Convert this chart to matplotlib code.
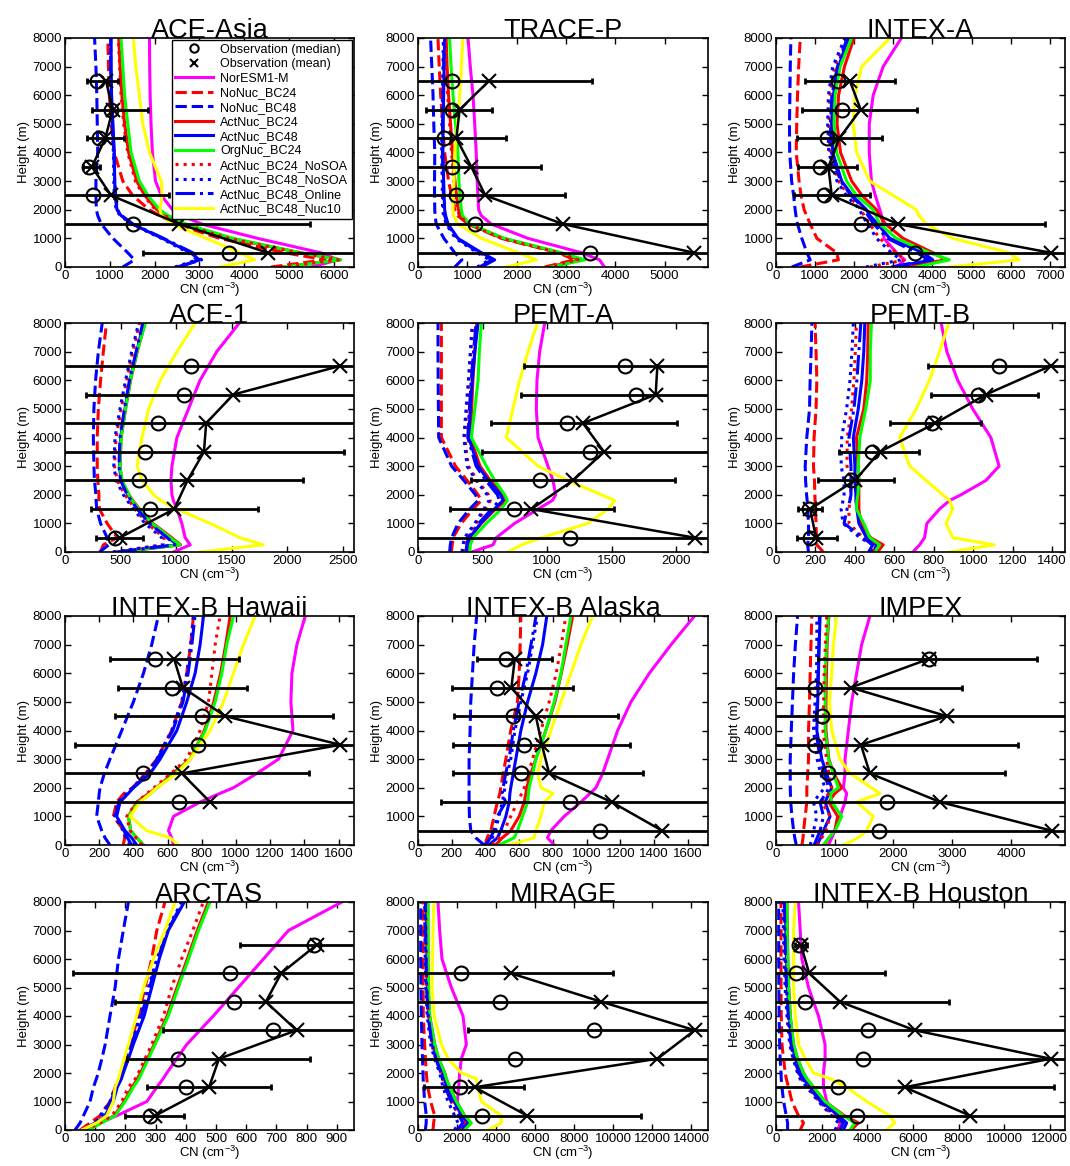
import numpy as np
import matplotlib
matplotlib.use('Agg')
from matplotlib import pyplot as plt

plt.rcParams['font.family'] = ['Liberation Sans', 'DejaVu Sans']
plt.rcParams['mathtext.fontset'] = 'custom'
plt.rcParams['mathtext.rm'] = 'Liberation Sans'
plt.rcParams['mathtext.it'] = 'Liberation Sans:italic'
plt.rcParams['mathtext.bf'] = 'Liberation Sans:bold'

# model heights (m)
Z = [0, 250, 500, 1000, 1500, 1800, 2000, 2500, 3000, 4000, 5000, 6000, 7000, 8000]
OBS_Z = [6500, 5500, 4500, 3500, 2500, 1500, 500]

MODELS = ['NorESM1-M', 'NoNuc_BC24', 'NoNuc_BC48', 'ActNuc_BC24', 'ActNuc_BC48',
          'OrgNuc_BC24', 'ActNuc_BC24_NoSOA', 'ActNuc_BC48_NoSOA',
          'ActNuc_BC48_Online', 'ActNuc_BC48_Nuc10']
COLORS = ['magenta', 'red', 'blue', 'red', 'blue', 'lime', 'red', 'blue', 'blue', 'yellow']
STYLES = ['-', '--', '--', '-', '-', '-', ':', ':', '-.', '-']

# CN profiles, one row per model (order of MODELS), values at Z
ace_asia = [
    [5500, 6100, 5700, 4300, 3050, 2600, 2400, 2150, 2020, 1950, 1920, 1900, 1890, 1885],
    [4600, 5800, 4900, 3450, 2480, 2100, 1880, 1510, 1290, 1100, 1030, 990, 970, 955],
    [1290, 1550, 1400, 1070, 810, 730, 700, 690, 690, 730, 720, 710, 690, 660],
    [4900, 6150, 5250, 3700, 2650, 2250, 2050, 1780, 1600, 1420, 1330, 1270, 1230, 1200],
    [2550, 3000, 2800, 2180, 1500, 1250, 1160, 1120, 1110, 1100, 1070, 1040, 1030, 1030],
    [4900, 6150, 5250, 3750, 2700, 2300, 2110, 1850, 1660, 1475, 1400, 1330, 1290, 1250],
    [4800, 6100, 5200, 3650, 2620, 2220, 2020, 1750, 1570, 1400, 1310, 1250, 1220, 1190],
    [2450, 2950, 2750, 2150, 1480, 1230, 1140, 1100, 1090, 1080, 1050, 1020, 1010, 1010],
    [2500, 3050, 2850, 2200, 1520, 1260, 1170, 1130, 1110, 1090, 1060, 1030, 1020, 1020],
    [3450, 4230, 3900, 3150, 2400, 2150, 2120, 2165, 2150, 1885, 1735, 1660, 1580, 1525],
]
trace_p = [
    [3780, 3680, 3310, 2230, 1485, 1280, 1230, 1215, 1200, 1180, 1150, 1115, 1060, 1015],
    [2570, 3175, 2840, 1690, 1015, 800, 745, 680, 620, 540, 500, 460, 430, 405],
    [745, 890, 745, 525, 370, 345, 340, 335, 335, 340, 320, 305, 280, 255],
    [2650, 3300, 2880, 1720, 1030, 860, 820, 780, 750, 700, 660, 620, 590, 570],
    [1285, 1555, 1285, 810, 610, 560, 540, 530, 520, 505, 510, 520, 530, 540],
    [2700, 3380, 2905, 1755, 1050, 900, 880, 850, 830, 810, 760, 710, 670, 640],
    [2600, 3250, 2850, 1700, 1020, 840, 800, 760, 730, 680, 640, 600, 570, 550],
    [1200, 1450, 1200, 760, 570, 520, 500, 495, 490, 480, 485, 495, 505, 515],
    [1250, 1500, 1250, 790, 590, 540, 520, 515, 510, 495, 500, 510, 520, 530],
    [1790, 2400, 2030, 1285, 810, 720, 710, 715, 730, 745, 800, 845, 880, 910],
]
intex_a = [
    [3080, 3290, 3080, 2760, 2740, 2700, 2655, 2540, 2440, 2385, 2385, 2485, 2740, 3205],
    [620, 1595, 1550, 1045, 875, 780, 720, 640, 590, 517, 530, 550, 580, 620],
    [405, 875, 790, 660, 550, 510, 490, 450, 400, 350, 345, 355, 365, 380],
    [3200, 4350, 4010, 3250, 2800, 2650, 2570, 2200, 1935, 1650, 1560, 1600, 1750, 1995],
    [3000, 4010, 3755, 2910, 2600, 2400, 2315, 1950, 1680, 1450, 1420, 1465, 1600, 1850],
    [3590, 4435, 3925, 3080, 2655, 2550, 2485, 2060, 1805, 1550, 1485, 1510, 1640, 1935],
    [2400, 3300, 3080, 2650, 2400, 2250, 2180, 1850, 1600, 1380, 1350, 1380, 1500, 1800],
    [2300, 3200, 2950, 2570, 2350, 2200, 2145, 1800, 1560, 1350, 1320, 1340, 1450, 1765],
    [2950, 3900, 3600, 2850, 2500, 2350, 2280, 1920, 1650, 1420, 1390, 1430, 1570, 1820],
    [4435, 6215, 5960, 4520, 3840, 3650, 3590, 2995, 2400, 2060, 1975, 2020, 2190, 2910],
]
ace_1 = [
    [977, 1126, 1081, 1051, 1007, 975, 962, 953, 962, 1007, 1111, 1215, 1365, 1568],
    [320, 345, 469, 379, 310, 305, 305, 295, 290, 290, 300, 320, 345, 373],
    [310, 394, 379, 320, 285, 280, 278, 265, 260, 255, 260, 275, 300, 335],
    [500, 1040, 960, 790, 670, 610, 575, 510, 495, 505, 545, 590, 650, 720],
    [480, 1010, 930, 770, 655, 600, 565, 505, 490, 500, 540, 585, 645, 708],
    [480, 1036, 947, 782, 663, 605, 573, 515, 493, 505, 544, 588, 648, 723],
    [440, 900, 890, 740, 630, 575, 540, 470, 445, 460, 505, 555, 610, 670],
    [430, 880, 870, 720, 615, 560, 525, 460, 439, 450, 495, 545, 600, 663],
    [470, 990, 920, 760, 650, 595, 560, 500, 485, 495, 535, 580, 640, 700],
    [1216, 1783, 1574, 1305, 1007, 860, 797, 693, 648, 693, 753, 857, 1007, 1171],
]
pemt_a = [
    [415, 581, 606, 748, 929, 1040, 1066, 1045, 1006, 929, 916, 921, 942, 981],
    [258, 265, 271, 335, 426, 490, 465, 380, 290, 181, 181, 181, 181, 181],
    [245, 250, 260, 310, 400, 465, 445, 355, 260, 160, 158, 156, 155, 155],
    [380, 385, 400, 490, 600, 680, 660, 560, 480, 405, 415, 425, 440, 455],
    [387, 390, 400, 485, 590, 658, 640, 545, 465, 392, 405, 420, 440, 465],
    [400, 405, 426, 529, 645, 692, 671, 594, 529, 413, 440, 465, 475, 490],
    [348, 355, 370, 450, 520, 560, 545, 460, 390, 361, 380, 395, 410, 426],
    [340, 348, 360, 440, 510, 550, 535, 450, 380, 355, 372, 390, 405, 420],
    [370, 378, 390, 470, 570, 630, 615, 525, 450, 385, 398, 412, 430, 450],
    [697, 800, 955, 1316, 1471, 1523, 1419, 1161, 929, 684, 735, 787, 852, 924],
]
pemt_b = [
    [694, 728, 753, 765, 829, 880, 938, 1064, 1131, 1089, 997, 921, 866, 837],
    [240, 207, 205, 203, 200, 198, 197, 195, 190, 193, 203, 207, 203, 198],
    [165, 160, 165, 165, 160, 158, 155, 150, 148, 156, 170, 173, 178, 182],
    [515, 543, 480, 430, 420, 420, 420, 420, 415, 408, 445, 460, 465, 467],
    [495, 509, 459, 420, 410, 405, 405, 400, 400, 392, 417, 435, 445, 450],
    [500, 526, 476, 445, 408, 410, 415, 420, 417, 425, 455, 478, 478, 484],
    [490, 500, 442, 370, 370, 375, 378, 380, 360, 361, 383, 395, 402, 408],
    [480, 492, 425, 340, 330, 340, 345, 345, 330, 333, 358, 375, 385, 392],
    [470, 490, 440, 345, 360, 375, 380, 380, 380, 370, 395, 410, 420, 430],
    [880, 1106, 896, 862, 896, 880, 845, 761, 677, 627, 711, 778, 829, 876],
]
intex_b_hawaii = [
    [634, 624, 605, 634, 790, 905, 985, 1122, 1249, 1333, 1321, 1327, 1356, 1405],
    [340, 350, 345, 283, 302, 345, 395, 470, 537, 624, 683, 712, 735, 751],
    [263, 234, 215, 185, 195, 200, 205, 230, 263, 332, 400, 459, 507, 546],
    [459, 420, 384, 371, 420, 490, 535, 630, 732, 815, 870, 910, 940, 966],
    [420, 390, 351, 302, 322, 370, 400, 498, 556, 654, 712, 761, 790, 810],
    [459, 420, 384, 371, 430, 500, 537, 640, 732, 820, 878, 917, 946, 985],
    [450, 415, 380, 361, 420, 480, 520, 620, 712, 790, 839, 859, 878, 907],
    [380, 355, 340, 290, 310, 360, 395, 480, 537, 624, 683, 712, 735, 751],
    [390, 365, 345, 295, 315, 365, 398, 485, 540, 630, 690, 720, 742, 760],
    [663, 615, 478, 380, 439, 500, 537, 654, 732, 849, 927, 985, 1044, 1112],
]
intex_b_alaska = [
    [808, 768, 788, 867, 966, 1020, 1055, 1095, 1125, 1184, 1263, 1372, 1501, 1640],
    [400, 410, 432, 451, 471, 485, 491, 505, 521, 550, 590, 600, 606, 610],
    [392, 343, 313, 305, 303, 303, 303, 303, 303, 309, 313, 323, 333, 348],
    [460, 500, 550, 600, 630, 640, 645, 670, 699, 758, 812, 850, 885, 917],
    [420, 471, 491, 521, 541, 545, 550, 565, 580, 610, 650, 699, 739, 764],
    [480, 570, 590, 620, 650, 655, 659, 680, 699, 758, 808, 848, 877, 907],
    [440, 480, 511, 550, 590, 615, 630, 655, 679, 729, 778, 820, 850, 877],
    [410, 440, 460, 480, 500, 510, 515, 530, 550, 575, 610, 650, 680, 709],
    [400, 430, 450, 470, 520, 500, 505, 520, 540, 565, 600, 640, 670, 700],
    [540, 689, 699, 729, 749, 800, 730, 709, 729, 788, 848, 907, 966, 1036],
]
impex = [
    [893, 949, 1006, 1090, 1175, 1203, 1147, 1175, 1175, 1232, 1288, 1373, 1458, 1599],
    [441, 460, 469, 497, 525, 525, 525, 540, 554, 554, 570, 582, 595, 610],
    [345, 320, 300, 271, 250, 245, 243, 242, 242, 260, 280, 300, 330, 367],
    [820, 900, 1000, 1050, 900, 1000, 1119, 980, 900, 850, 850, 860, 870, 900],
    [695, 760, 808, 921, 836, 900, 949, 860, 780, 695, 710, 723, 735, 751],
    [808, 900, 1006, 1119, 950, 921, 1062, 977, 893, 836, 836, 836, 860, 893],
    [700, 780, 850, 921, 780, 900, 950, 900, 860, 800, 810, 820, 840, 864],
    [582, 620, 640, 695, 638, 750, 830, 760, 700, 638, 665, 690, 695, 695],
    [650, 700, 750, 808, 750, 850, 900, 820, 750, 680, 700, 715, 730, 740],
    [1147, 1400, 1542, 1655, 1373, 1768, 1627, 1260, 1090, 949, 910, 949, 977, 1034],
]
arctas = [
    [72, 116, 171, 271, 304, 325, 337, 370, 403, 491, 574, 657, 740, 917],
    [50, 83, 116, 149, 166, 180, 188, 200, 215, 243, 265, 287, 304, 331],
    [33, 50, 61, 83, 94, 104, 110, 122, 133, 149, 166, 177, 193, 210],
    [75, 118, 163, 196, 222, 240, 250, 273, 295, 338, 371, 405, 438, 475],
    [61, 105, 132, 160, 173, 187, 193, 210, 226, 262, 287, 312, 342, 395],
    [77, 121, 166, 199, 226, 245, 254, 276, 298, 342, 375, 409, 442, 480],
    [66, 116, 155, 188, 210, 233, 243, 265, 287, 326, 353, 386, 423, 458],
    [55, 100, 116, 149, 166, 180, 188, 203, 218, 248, 276, 304, 337, 386],
    [57, 100, 120, 152, 168, 182, 190, 205, 220, 252, 280, 307, 340, 390],
    [55, 105, 138, 160, 166, 177, 182, 196, 210, 237, 260, 293, 331, 364],
]
mirage = [
    [2220, 2390, 2185, 2015, 2083, 2110, 2134, 2220, 2476, 2305, 1707, 1229, 1110, 1024],
    [768, 800, 854, 649, 500, 450, 427, 380, 341, 270, 260, 256, 256, 256],
    [376, 420, 427, 341, 290, 265, 256, 230, 205, 170, 150, 140, 137, 137],
    [2350, 2700, 2390, 1963, 1622, 1450, 1366, 1059, 854, 598, 520, 510, 505, 500],
    [2200, 2550, 2250, 1850, 1500, 1330, 1250, 980, 780, 560, 480, 460, 440, 420],
    [2390, 2732, 2390, 1963, 1622, 1450, 1366, 1059, 854, 598, 540, 512, 512, 512],
    [2100, 2400, 2100, 1700, 1400, 1250, 1180, 900, 720, 520, 450, 420, 400, 390],
    [1878, 2049, 1878, 1537, 1281, 1180, 1110, 850, 649, 470, 400, 370, 350, 341],
    [2000, 2300, 2100, 1700, 1400, 1250, 1180, 920, 720, 520, 440, 410, 390, 380],
    [3585, 4268, 4268, 3244, 3073, 2988, 2220, 1537, 1195, 830, 717, 740, 768, 820],
]
intex_b_houston = [
    [2731, 2804, 2659, 2223, 2078, 2078, 2078, 2150, 2150, 1860, 1424, 1133, 1061, 988],
    [1061, 1206, 988, 697, 552, 450, 407, 330, 262, 230, 220, 218, 218, 218],
    [508, 508, 450, 334, 260, 230, 218, 180, 160, 135, 125, 120, 118, 116],
    [3300, 3603, 3000, 2150, 1642, 1350, 1206, 944, 770, 625, 560, 520, 500, 480],
    [2949, 3095, 2731, 2005, 1496, 1200, 1061, 850, 700, 580, 500, 460, 430, 407],
    [3240, 3458, 2949, 2150, 1642, 1350, 1206, 944, 770, 625, 550, 510, 490, 479],
    [2700, 2850, 2500, 1900, 1400, 1100, 980, 780, 640, 520, 450, 400, 370, 350],
    [2586, 2731, 2441, 1860, 1351, 1050, 944, 750, 600, 480, 400, 350, 320, 305],
    [2800, 2950, 2600, 1950, 1450, 1150, 1000, 800, 660, 540, 460, 420, 390, 370],
    [4838, 5201, 4983, 3966, 3095, 2368, 1642, 1278, 988, 843, 770, 770, 770, 843],
]

# observations: median, mean, lower end, upper end of bar
ace_asia_obs = [[710, 1030, 765, 530, 620, 1525, 3655],
                [915, 1065, 900, 600, 1030, 2555, 4525],
                [485, 600, 485, 395, -255, -350, 1735],
                [1190, 1850, 1325, 780, 2315, 5460, 7315]]
trace_p_obs = [[690, 690, 527, 690, 763, 1150, 3490],
               [1440, 845, 777, 1080, 1365, 2940, 5595],
               [-650, 170, -230, -330, -260, -1500, -2000],
               [3530, 1505, 1780, 2490, 2990, 7400, 13000]]
intex_a_obs = [[1595, 1680, 1300, 1130, 1240, 2170, 3560],
               [1890, 2165, 1620, 1340, 1425, 3120, 7020],
               [745, 660, 535, 550, 450, -640, -1000],
               [3035, 3615, 2700, 2080, 2400, 6880, 15000]]
ace_1_obs = [[1135, 1072, 836, 717, 663, 768, 454],
             [2475, 1514, 1270, 1250, 1102, 983, 493],
             [-500, 185, -300, -10, -20, 230, 275],
             [5500, 2840, 2800, 2510, 2142, 1738, 702]]
pemt_a_obs = [[1600, 1685, 1156, 1332, 947, 740, 1174],
              [1853, 1840, 1277, 1440, 1200, 877, 2142],
              [820, 795, 568, 495, 408, 248, -50],
              [2900, 2900, 2008, 2400, 1992, 1517, 4400]]
pemt_b_obs = [[1128, 1025, 792, 489, 378, 165, 173],
              [1392, 1064, 808, 526, 400, 173, 203],
              [770, 787, 576, 319, 215, 109, 106],
              [2000, 1329, 1039, 724, 597, 232, 308]]
intex_b_hawaii_obs = [[529, 628, 800, 780, 458, 667],
                      [638, 689, 937, 1610, 683, 849],
                      [263, 312, 293, 58, -60, -300],
                      [1015, 1067, 1567, 3200, 1424, 2000]]
intex_b_alaska_obs = [[521, 471, 566, 626, 610, 903, 1081],
                      [574, 554, 699, 735, 778, 1149, 1448],
                      [348, 204, 214, 210, 210, 139, -200],
                      [792, 917, 1184, 1255, 1335, 2160, 3100]]
impex_obs = [[2605, 672, 780, 672, 893, 1893, 1757],
             [2600, 1271, 2910, 1446, 1599, 2797, 4695],
             [723, -620, -200, -1230, -700, -500, -1000],
             [4440, 3164, 6000, 4124, 3904, 6100, 10000]]
arctas_obs = [[825, 547, 560, 690, 375, 401, 282],
              [834, 716, 665, 767, 510, 477, 298],
              [578, 28, 166, 326, 206, 271, 199],
              [1090, 1400, 1160, 1200, 812, 682, 395]]
mirage_obs = [[2220, 4217, 8998, 4951, 2134, 3295],
              [4746, 9390, 14170, 12258, 2902, 5600],
              [-500, -1000, 2561, -500, 307, -240],
              [9988, 20000, 26000, 25000, 5429, 11439]]
intex_b_houston_obs = [[988, 886, 1278, 4039, 3821, 2731, 3530],
                       [1090, 1453, 2804, 6073, 12030, 5637, 8514],
                       [843, -1860, -1990, -2000, -1000, -900, -1000],
                       [1351, 4765, 7598, 14000, 25000, 12175, 18000]]

CAMPAIGNS = ['ACE-Asia', 'TRACE-P', 'INTEX-A', 'ACE-1', 'PEMT-A', 'PEMT-B',
             'INTEX-B Hawaii', 'INTEX-B Alaska', 'IMPEX', 'ARCTAS', 'MIRAGE',
             'INTEX-B Houston']
PROFILES = [ace_asia, trace_p, intex_a, ace_1, pemt_a, pemt_b, intex_b_hawaii,
            intex_b_alaska, impex, arctas, mirage, intex_b_houston]
OBS = [ace_asia_obs, trace_p_obs, intex_a_obs, ace_1_obs, pemt_a_obs, pemt_b_obs,
       intex_b_hawaii_obs, intex_b_alaska_obs, impex_obs, arctas_obs, mirage_obs,
       intex_b_houston_obs]
OBS_HEIGHTS = [OBS_Z, OBS_Z, OBS_Z, OBS_Z, OBS_Z, OBS_Z, OBS_Z[:6], OBS_Z,
               OBS_Z, OBS_Z, OBS_Z[1:], OBS_Z]
XMAX = [6450, 5880, 7390, 2600, 2245, 1465, 1690, 1720, 4920, 957, 14850, 12660]
XSTEP = [1000, 1000, 1000, 500, 500, 200, 200, 200, 1000, 100, 2000, 2000]

W, H = 1070, 1166
fig = plt.figure(figsize=(W / 100, H / 100), dpi=100)
lefts = [65, 418, 776]
widths = [289, 290, 289]
tops = [38, 323, 616, 902]
heights = [229, 229, 229, 228]

for i, name in enumerate(CAMPAIGNS):
    r, c = divmod(i, 3)
    ax = fig.add_axes([lefts[c] / W, 1 - (tops[r] + heights[r]) / H,
                       widths[c] / W, heights[r] / H])
    med, mean, lo, hi = [np.array(v, dtype=float) for v in OBS[i]]
    zo = OBS_HEIGHTS[i]

    # observation markers (also give the legend entries)
    ax.plot(med, zo, 'o', mec='k', mfc='none', ms=10, mew=1.5, zorder=4,
            label='Observation (median)')
    ax.plot(mean, zo, 'x', color='k', ms=10, mew=1.5, zorder=4,
            label='Observation (mean)')

    for j, prof in enumerate(PROFILES[i]):
        ax.plot(prof, Z, color=COLORS[j], ls=STYLES[j], lw=2.2, zorder=2,
                label=MODELS[j])

    ax.errorbar(mean, zo, xerr=[mean - lo, hi - mean], fmt='none', ecolor='k',
                elinewidth=2, capsize=2.5, capthick=2, zorder=3)
    ax.plot(mean, zo, 'k-', lw=1.8, zorder=3)

    ax.set_xlim(0, XMAX[i])
    ax.set_ylim(0, 8000)
    ax.set_xticks(np.arange(0, XMAX[i] + 1, XSTEP[i]))
    ax.set_yticks(np.arange(0, 8001, 1000))
    ax.tick_params(direction='in', top=True, right=True, labelsize=9.5,
                   length=4, width=1, pad=2)
    for sp in ax.spines.values():
        sp.set_linewidth(1.2)
    ax.set_title(name, fontsize=19.5, pad=0)
    ax.set_ylabel('Height (m)', fontsize=9.5, labelpad=2)
    ax.set_xlabel('CN (cm$^{-3}$)', fontsize=9.5, labelpad=-1)

    if i == 0:
        leg = ax.legend(loc='upper right', fontsize=9, handlelength=3.0,
                        labelspacing=0.2, borderpad=0.3, fancybox=False,
                        framealpha=1, edgecolor='k', borderaxespad=0.15,
                        markerscale=0.6, handletextpad=0.6)
        leg.get_frame().set_linewidth(1)
        leg.set_zorder(5)

fig.savefig('out.png', dpi=100)
